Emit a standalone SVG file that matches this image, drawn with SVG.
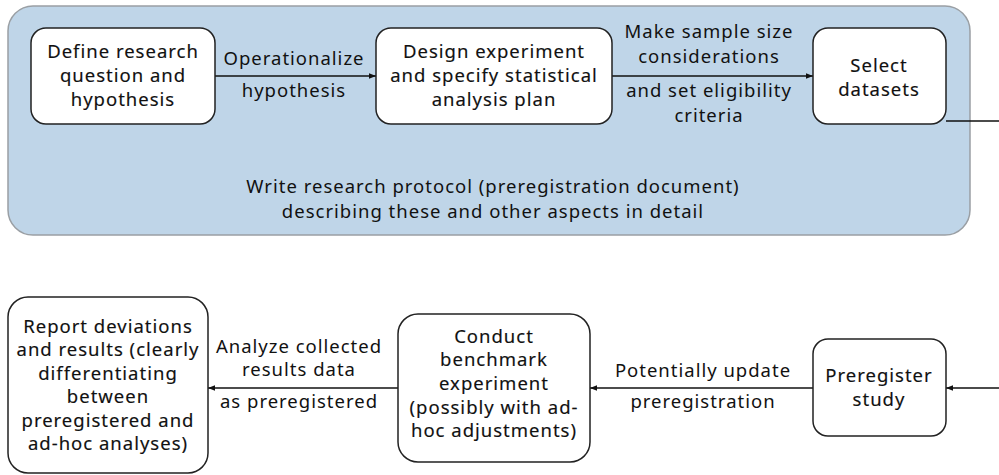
<svg xmlns="http://www.w3.org/2000/svg" width="999" height="475" viewBox="0 0 999 475">
  <defs>
    <marker id="arrow" viewBox="0 0 10 10" refX="10" refY="5" markerWidth="7" markerHeight="7" markerUnits="userSpaceOnUse" orient="auto">
      <path d="M0,1 L10,5 L0,9 Z" fill="#111"/>
    </marker>
    <style>
      .node rect { fill: #ffffff; stroke: #222222; stroke-width: 1.5; }
      .node text { font-family: "Noto Sans", "DejaVu Sans", sans-serif; font-size: 18.5px; letter-spacing: 1px; fill: #111; stroke: #111; stroke-width: 0.15; text-anchor: middle; }
      .label { font-family: "Noto Sans", "DejaVu Sans", sans-serif; font-size: 18.5px; letter-spacing: 1px; fill: #111; text-anchor: middle; }
      .edge { fill: none; stroke: #111; stroke-width: 1.3; marker-end: url(#arrow); }
    </style>
  </defs>

  <!-- protocol container -->
  <g id="protocol">
    <rect x="8" y="6" width="962" height="229" rx="25" fill="#bfd5e8" stroke="#9a9fa4" stroke-width="1.5"/>
    <text class="label" x="493" y="193">Write research protocol (preregistration document)</text>
    <text class="label" x="493" y="218">describing these and other aspects in detail</text>
  </g>

  <!-- connectors -->
  <g id="connectors">
    <line class="edge" x1="215" y1="76" x2="376" y2="76"/>
    <line class="edge" x1="612" y1="76" x2="813" y2="76"/>
    <path class="edge" d="M946,121 H1010 V388 H946"/>
    <line class="edge" x1="813" y1="388" x2="590" y2="388"/>
    <line class="edge" x1="398" y1="388" x2="208" y2="388"/>
    <text class="label" x="294" y="65">Operationalize</text>
    <text class="label" x="294" y="97">hypothesis</text>
    <text class="label" x="709" y="38">Make sample size</text>
    <text class="label" x="709" y="63">considerations</text>
    <text class="label" x="709" y="97">and set eligibility</text>
    <text class="label" x="709" y="122">criteria</text>
    <text class="label" x="703" y="377">Potentially update</text>
    <text class="label" x="703" y="408">preregistration</text>
    <text class="label" x="299" y="353">Analyze collected</text>
    <text class="label" x="299" y="376">results data</text>
    <text class="label" x="299" y="408">as preregistered</text>
  </g>

  <g id="define" class="node">
    <rect x="31" y="28" width="184" height="96" rx="15"/>
    <text x="123" y="58">Define research</text>
    <text x="123" y="82">question and</text>
    <text x="123" y="106">hypothesis</text>
  </g>

  <g id="design" class="node">
    <rect x="376" y="28" width="236" height="96" rx="15"/>
    <text x="494" y="58">Design experiment</text>
    <text x="494" y="82">and specify statistical</text>
    <text x="494" y="106">analysis plan</text>
  </g>

  <g id="select" class="node">
    <rect x="813" y="28" width="133" height="96" rx="15"/>
    <text x="879" y="72">Select</text>
    <text x="879" y="96">datasets</text>
  </g>

  <g id="preregister" class="node">
    <rect x="813" y="339" width="133" height="97" rx="15"/>
    <text x="879" y="382">Preregister</text>
    <text x="879" y="406">study</text>
  </g>

  <g id="conduct" class="node">
    <rect x="398" y="314" width="192" height="148" rx="20"/>
    <text x="494" y="343">Conduct</text>
    <text x="494" y="366">benchmark</text>
    <text x="494" y="390">experiment</text>
    <text x="494" y="414">(possibly with ad-</text>
    <text x="494" y="437">hoc adjustments)</text>
  </g>

  <g id="report" class="node">
    <rect x="8" y="297" width="200" height="176" rx="20"/>
    <text x="108" y="333">Report deviations</text>
    <text x="108" y="356">and results (clearly</text>
    <text x="108" y="380">differentiating</text>
    <text x="108" y="403">between</text>
    <text x="108" y="427">preregistered and</text>
    <text x="108" y="450">ad-hoc analyses)</text>
  </g>
</svg>
